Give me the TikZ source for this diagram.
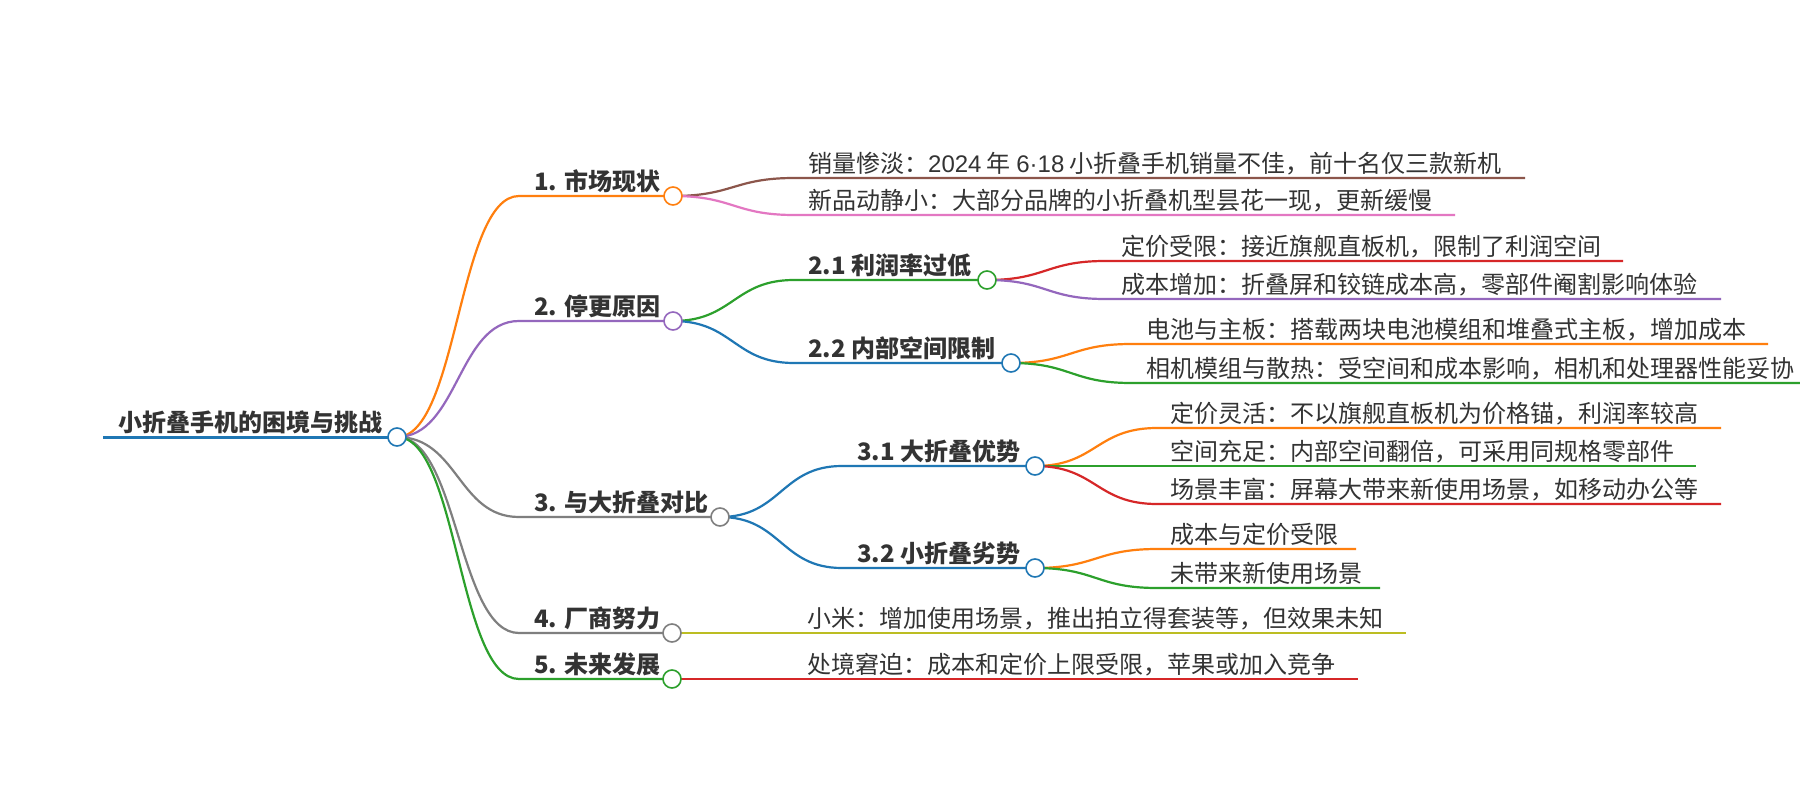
\documentclass[tikz,border=0pt]{standalone}
\usepackage{fontspec}
\setmainfont{Noto Sans CJK SC}
\newfontfamily\latinfont{Liberation Sans}
\definecolor{cB}{HTML}{1F77B4}
\definecolor{cO}{HTML}{FF7F0E}
\definecolor{cG}{HTML}{2CA02C}
\definecolor{cR}{HTML}{D62728}
\definecolor{cP}{HTML}{9467BD}
\definecolor{cBr}{HTML}{8C564B}
\definecolor{cPk}{HTML}{E377C2}
\definecolor{cGy}{HTML}{7F7F7F}
\definecolor{cOl}{HTML}{BCBD22}
\definecolor{txt}{HTML}{333333}
\tikzset{
  knob/.style={circle, draw=#1, fill=white, line width=1.6pt, minimum size=18pt, inner sep=0pt},
  lnk/.style={draw=#1, line width=2.2pt},
  blabel/.style={anchor=base west, inner sep=0pt, font=\bfseries\fontsize{24}{28}\selectfont, text=txt},
  llabel/.style={anchor=base west, inner sep=0pt, font=\fontsize{24}{28}\selectfont, text=txt},
}
\begin{document}
\begin{tikzpicture}[x=1pt, y=-1pt]
\fill[white] (0,0) rectangle (1800,800);
\useasboundingbox (0,0) rectangle (1800,800);

% ---------- coordinates ----------
\coordinate (rs) at (103,437);
\coordinate (n1s) at (519,196);
\coordinate (n2s) at (519,321);
\coordinate (n3s) at (519,517);
\coordinate (n4s) at (519,633);
\coordinate (n5s) at (519,679);
\coordinate (n21s) at (794,280);
\coordinate (n22s) at (794,363);
\coordinate (n31s) at (842,466);
\coordinate (n32s) at (842,568);
% leaves
\coordinate (l11s) at (794,178);  \coordinate (l11e) at (1525,178);
\coordinate (l12s) at (794,215);  \coordinate (l12e) at (1455,215);
\coordinate (l211s) at (1105,261); \coordinate (l211e) at (1623,261);
\coordinate (l212s) at (1105,299); \coordinate (l212e) at (1721,299);
\coordinate (l221s) at (1131,344); \coordinate (l221e) at (1768,344);
\coordinate (l222s) at (1131,383); \coordinate (l222e) at (1810,383);
\coordinate (l311s) at (1157,428); \coordinate (l311e) at (1721,428);
\coordinate (l312s) at (1157,466); \coordinate (l312e) at (1696,466);
\coordinate (l313s) at (1157,504); \coordinate (l313e) at (1721,504);
\coordinate (l321s) at (1157,549); \coordinate (l321e) at (1356,549);
\coordinate (l322s) at (1157,588); \coordinate (l322e) at (1380,588);
\coordinate (l41s) at (794,633);  \coordinate (l41e) at (1406,633);
\coordinate (l51s) at (794,679);  \coordinate (l51e) at (1358,679);

% ---------- circle positions ----------
\coordinate (Rc) at (397,437);
\coordinate (n1c) at (673,196);
\coordinate (n2c) at (673,321);
\coordinate (n3c) at (720,517);
\coordinate (n4c) at (672,633);
\coordinate (n5c) at (672,679);
\coordinate (n21c) at (987,280);
\coordinate (n22c) at (1011,363);
\coordinate (n31c) at (1035,466);
\coordinate (n32c) at (1035,568);

% ---------- root underline ----------
\draw[cB, line width=3pt] (rs) -- (Rc);

% ---------- level 1 links ----------
\draw[lnk=cO]  (Rc) .. controls +(61,0) and +(-61,0) .. (n1s) -- (n1c);
\draw[lnk=cP]  (Rc) .. controls +(61,0) and +(-61,0) .. (n2s) -- (n2c);
\draw[lnk=cGy] (Rc) .. controls +(61,0) and +(-61,0) .. (n3s) -- (n3c);
\draw[lnk=cGy] (Rc) .. controls +(61,0) and +(-61,0) .. (n4s) -- (n4c);
\draw[lnk=cG]  (Rc) .. controls +(61,0) and +(-61,0) .. (n5s) -- (n5c);

% ---------- level 2 links ----------
\draw[lnk=cG] (n2c) .. controls +(60,0) and +(-60,0) .. (n21s) -- (n21c);
\draw[lnk=cB] (n2c) .. controls +(60,0) and +(-60,0) .. (n22s) -- (n22c);
\draw[lnk=cB] (n3c) .. controls +(61,0) and +(-61,0) .. (n31s) -- (n31c);
\draw[lnk=cB] (n3c) .. controls +(61,0) and +(-61,0) .. (n32s) -- (n32c);

% ---------- leaf links ----------
\draw[lnk=cBr] (n1c) .. controls +(60,0) and +(-60,0) .. (l11s) -- (l11e);
\draw[lnk=cPk] (n1c) .. controls +(60,0) and +(-60,0) .. (l12s) -- (l12e);
\draw[lnk=cR]  (n21c) .. controls +(59,0) and +(-59,0) .. (l211s) -- (l211e);
\draw[lnk=cP]  (n21c) .. controls +(59,0) and +(-59,0) .. (l212s) -- (l212e);
\draw[lnk=cO]  (n22c) .. controls +(60,0) and +(-60,0) .. (l221s) -- (l221e);
\draw[lnk=cG]  (n22c) .. controls +(60,0) and +(-60,0) .. (l222s) -- (l222e);
\draw[lnk=cO]  (n31c) .. controls +(61,0) and +(-61,0) .. (l311s) -- (l311e);
\draw[lnk=cG]  (n31c) -- (l312s) -- (l312e);
\draw[lnk=cR]  (n31c) .. controls +(61,0) and +(-61,0) .. (l313s) -- (l313e);
\draw[lnk=cO]  (n32c) .. controls +(61,0) and +(-61,0) .. (l321s) -- (l321e);
\draw[lnk=cG]  (n32c) .. controls +(61,0) and +(-61,0) .. (l322s) -- (l322e);
\draw[lnk=cOl] (n4c) -- (l41s) -- (l41e);
\draw[lnk=cR]  (n5c) -- (l51s) -- (l51e);

% ---------- circles ----------
\node[knob=cB]  (R)   at (Rc) {};
\node[knob=cO]  (n1)  at (n1c) {};
\node[knob=cP]  (n2)  at (n2c) {};
\node[knob=cGy] (n3)  at (n3c) {};
\node[knob=cGy] (n4)  at (n4c) {};
\node[knob=cG]  (n5)  at (n5c) {};
\node[knob=cG]  (n21) at (n21c) {};
\node[knob=cB]  (n22) at (n22c) {};
\node[knob=cB]  (n31) at (n31c) {};
\node[knob=cB]  (n32) at (n32c) {};

% ---------- labels ----------
\node[blabel] (tR)  at (118,431) {小折叠手机的困境与挑战};
\node[blabel] (t1)  at (534,190) {1. 市场现状};
\node[blabel] (t2)  at (534,315) {2. 停更原因};
\node[blabel] (t3)  at (534,511) {3. 与大折叠对比};
\node[blabel] (t4)  at (534,627) {4. 厂商努力};
\node[blabel] (t5)  at (534,673) {5. 未来发展};
\node[blabel] (t21) at (808,274) {2.1 利润率过低};
\node[blabel] (t22) at (808,357) {2.2 内部空间限制};
\node[blabel] (t31) at (857,460) {3.1 大折叠优势};
\node[blabel] (t32) at (857,562) {3.2 小折叠劣势};

\node[llabel] (t11)  at (808,172) {销量惨淡：{\latinfont 2024} 年 {\latinfont 6·18} 小折叠手机销量不佳，前十名仅三款新机};
\node[llabel] (t12)  at (808,209) {新品动静小：大部分品牌的小折叠机型昙花一现，更新缓慢};
\node[llabel] (t211) at (1121,255) {定价受限：接近旗舰直板机，限制了利润空间};
\node[llabel] (t212) at (1121,293) {成本增加：折叠屏和铰链成本高，零部件阉割影响体验};
\node[llabel] (t221) at (1146,338) {电池与主板：搭载两块电池模组和堆叠式主板，增加成本};
\node[llabel] (t222) at (1146,377) {相机模组与散热：受空间和成本影响，相机和处理器性能妥协};
\node[llabel] (t311) at (1170,422) {定价灵活：不以旗舰直板机为价格锚，利润率较高};
\node[llabel] (t312) at (1170,460) {空间充足：内部空间翻倍，可采用同规格零部件};
\node[llabel] (t313) at (1170,498) {场景丰富：屏幕大带来新使用场景，如移动办公等};
\node[llabel] (t321) at (1170,543) {成本与定价受限};
\node[llabel] (t322) at (1170,582) {未带来新使用场景};
\node[llabel] (t41)  at (807,627) {小米：增加使用场景，推出拍立得套装等，但效果未知};
\node[llabel] (t51)  at (807,673) {处境窘迫：成本和定价上限受限，苹果或加入竞争};
\end{tikzpicture}
\end{document}
